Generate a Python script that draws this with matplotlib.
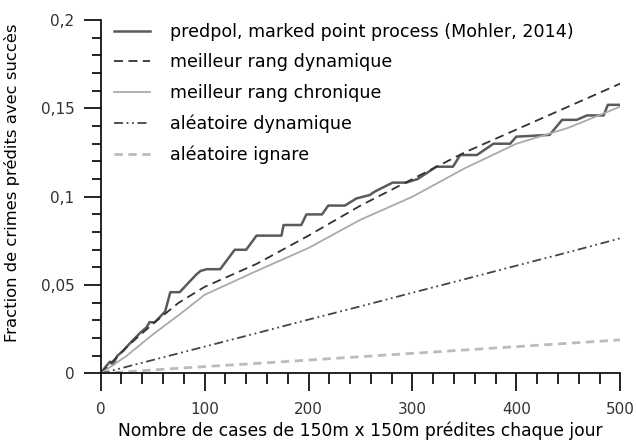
import matplotlib
matplotlib.use('Agg')
import matplotlib.pyplot as plt
from matplotlib.ticker import MultipleLocator, FuncFormatter

plt.rcParams['font.family'] = ['DejaVu Sans']
plt.rcParams['xtick.major.size'] = 13
plt.rcParams['xtick.minor.size'] = 8
plt.rcParams['ytick.major.size'] = 12
plt.rcParams['ytick.minor.size'] = 6.5
plt.rcParams['xtick.major.width'] = 1.2
plt.rcParams['xtick.minor.width'] = 1.2
plt.rcParams['ytick.major.width'] = 1.2
plt.rcParams['ytick.minor.width'] = 1.2
plt.rcParams['xtick.color'] = 'black'
plt.rcParams['ytick.color'] = 'black'

# predpol, marked point process (staircase)
predpol_x = [0, 5, 9, 12, 16, 22, 28, 33, 38, 44, 47, 52, 57, 62, 67, 76, 84, 92, 96, 102,
             115, 129, 140, 150, 174, 176, 193, 198, 213, 219, 235, 246, 259, 264, 281,
             294, 305, 323, 339, 346, 362, 378, 394, 400, 432, 444, 458, 468, 484, 488, 500]
predpol_y = [0, 0.004, 0.0067, 0.005, 0.010, 0.013, 0.017, 0.020, 0.023, 0.026, 0.029, 0.029,
             0.032, 0.035, 0.046, 0.046, 0.051, 0.056, 0.058, 0.059, 0.059, 0.070, 0.070,
             0.078, 0.078, 0.084, 0.084, 0.090, 0.090, 0.095, 0.095, 0.099, 0.101, 0.103,
             0.108, 0.108, 0.110, 0.117, 0.117, 0.1236, 0.1236, 0.130, 0.130, 0.134, 0.135,
             0.1435, 0.1435, 0.146, 0.146, 0.152, 0.152]

# meilleur rang dynamique
dyn_x = [0, 25, 50, 75, 100, 150, 200, 250, 300, 350, 400, 450, 500]
dyn_y = [0, 0.015, 0.028, 0.040, 0.049, 0.062, 0.078, 0.095, 0.110, 0.125, 0.138, 0.151, 0.164]

# meilleur rang chronique
chron_x = [0, 25, 50, 75, 100, 150, 200, 250, 300, 350, 400, 450, 500]
chron_y = [0, 0.010, 0.022, 0.033, 0.0445, 0.058, 0.071, 0.087, 0.100, 0.116, 0.130, 0.139, 0.151]

# aléatoire dynamique
alea_dyn_x = [0, 50, 100, 150, 200, 250, 300, 350, 400, 450, 500]
alea_dyn_y = [0, 0.0076, 0.0152, 0.0228, 0.0305, 0.038, 0.0457, 0.0533, 0.061, 0.0686, 0.0765]

# aléatoire ignare
alea_ign_x = [0, 50, 100, 150, 200, 250, 300, 350, 400, 450, 500]
alea_ign_y = [0, 0.002, 0.0039, 0.0057, 0.0076, 0.0095, 0.0114, 0.0133, 0.0152, 0.0171, 0.019]

fig = plt.figure(figsize=(6.36, 4.43), dpi=100)
ax = fig.add_axes([0.1583, 0.1569, 0.8170, 0.7980])

ax.plot(predpol_x, predpol_y, color='#5a5a5a', lw=1.8, label='predpol, marked point process (Mohler, 2014)')
ax.plot(dyn_x, dyn_y, color='#333333', lw=1.3, ls=(0, (5, 3)), label='meilleur rang dynamique')
ax.plot(chron_x, chron_y, color='#aaaaaa', lw=1.3, label='meilleur rang chronique')
ax.plot(alea_dyn_x, alea_dyn_y, color='#444444', lw=1.3, ls=(0, (5, 2, 1, 2, 1, 2)),
        label='aléatoire dynamique')
ax.plot(alea_ign_x, alea_ign_y, color='#bbbbbb', lw=2.0, ls=(0, (3, 2)), label='aléatoire ignare')

ax.set_xlim(0, 500)
ax.set_ylim(0, 0.2)
ax.spines['top'].set_visible(False)
ax.spines['right'].set_visible(False)
for s in ('left', 'bottom'):
    ax.spines[s].set_linewidth(1.2)

ax.xaxis.set_major_locator(MultipleLocator(100))
ax.xaxis.set_minor_locator(MultipleLocator(20))
ax.yaxis.set_major_locator(MultipleLocator(0.05))
ax.yaxis.set_minor_locator(MultipleLocator(0.01))
ax.yaxis.set_major_formatter(FuncFormatter(lambda v, p: ('%g' % round(v, 3)).replace('.', ',')))
ax.tick_params(axis='x', which='major', labelsize=11, labelcolor='#333333', pad=7.5)
ax.tick_params(axis='y', which='major', labelsize=11, labelcolor='#333333', pad=7)

ax.set_xlabel('Nombre de cases de 150m x 150m prédites chaque jour', fontsize=12.3, labelpad=3)
ax.set_ylabel('Fraction de crimes prédits avec succès', fontsize=11.8)
ax.yaxis.set_label_coords(-0.155, 0.54)

ax.legend(loc='upper left', bbox_to_anchor=(0.025, 0.992), frameon=False, fontsize=12.6,
          handlelength=2.1, handletextpad=1.1, labelspacing=0.72, borderpad=0, borderaxespad=0)

fig.savefig('out.png', dpi=100)
